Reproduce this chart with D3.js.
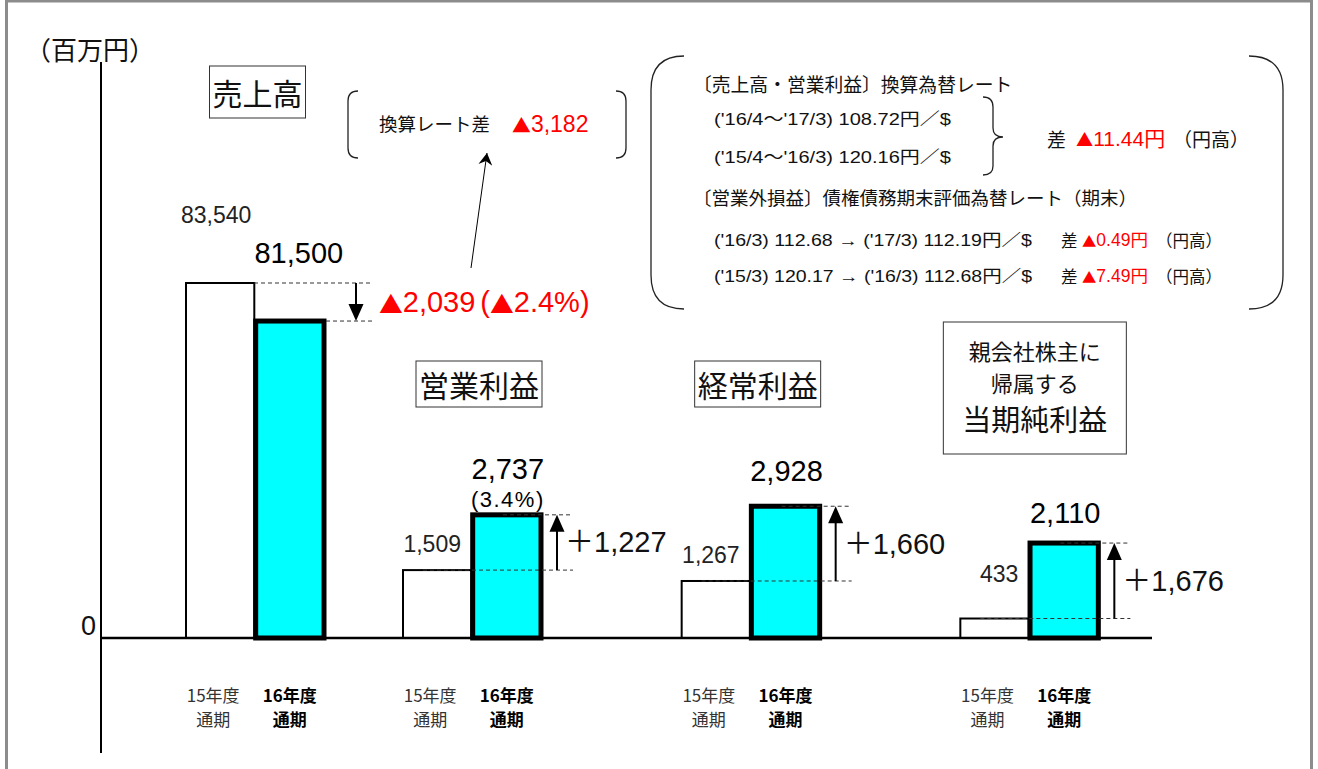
<!DOCTYPE html>
<html><head><meta charset="utf-8">
<script src="https://cdn.jsdelivr.net/npm/d3@7"></script>
<style>
html,body{margin:0;padding:0;background:#fff;}
svg{display:block;}
</style></head><body>
<svg id="chart" width="1318" height="769"></svg>
<script>
// ---------------- data ----------------
const categories = ["売上高", "営業利益", "経常利益", "親会社株主に帰属する当期純利益"];
const categoryLines = [["売上高"], ["営業利益"], ["経常利益"], ["親会社株主に", "帰属する", "当期純利益"]];
const periods = ["15年度", "16年度"];
const periodSub = ["通期", "通期"];
const values15 = [83540, 1509, 1267, 433];
const values16 = [81500, 2737, 2928, 2110];
const diffLabels = ["▲2,039", "＋1,227", "＋1,660", "＋1,676"];
const diffPct = ["(▲2.4%)", "", "", ""];
const marginLabels = ["", "(3.4%)", "", ""];
const unitLabel = "（百万円）";
const zeroLabel = "0";
const fxGapLabel = "換算レート差";
const fxGapValue = "▲3,182";
const rateTitle1 = "〔売上高・営業利益〕換算為替レート";
const rateLines1 = ["('16/4〜'17/3)  108.72円／$", "('15/4〜'16/3)  120.16円／$"];
const rateDiff1 = ["差", "▲11.44円", "（円高）"];
const rateTitle2 = "〔営業外損益〕債権債務期末評価為替レート（期末）";
const rateLines2 = ["('16/3) 112.68 → ('17/3) 112.19円／$", "('15/3) 120.17 → ('16/3) 112.68円／$"];
const rateDiff2 = [["差", "▲0.49円", "（円高）"], ["差", "▲7.49円", "（円高）"]];

// ---------------- setup ----------------
const LATIN = "'Liberation Sans', Arial, 'Noto Sans CJK JP', sans-serif";
const CJK = "'Noto Sans CJK JP', 'Liberation Sans', sans-serif";
const RED = "#ff0000";
const INK = "#111";
const svg = d3.select("#chart");
const baseY = 638;

// put text into a <text>, drawing the ▲ glyphs with the CJK font (larger triangle)
function mixed(sel, str, size) {
  str.split(/(▲|\()/).filter(s => s.length).forEach(s => {
    const ts = sel.append("tspan").text(s);
    if (s === "▲") ts.attr("font-family", CJK).attr("font-size", size * 0.82);
    if (s === "(") ts.attr("dx", 5);
  });
  return sel;
}

// sales has its own (broken) scale; profits share one
const ySales = d3.scaleLinear().domain([64500, 83540]).range([baseY, 283]);
const yProfit = d3.scaleLinear().domain([0, 3000]).range([baseY, 503]);
const salesX = d3.scaleBand().domain(categories.slice(0, 1)).range([186, 464.7]);
const profitX = d3.scaleBand().domain(categories.slice(1)).range([403, 1239]);
const inner = d3.scaleBand().domain(periods).range([0, 138]).paddingInner(0.02);

const rows = categories.map((c, i) => ({cat: c, i, v: [values15[i], values16[i]]}));
const yOf = r => r.i === 0 ? ySales : yProfit;
const L = r => r.i === 0 ? salesX(r.cat) : profitX(r.cat);

// frame
svg.append("rect").attr("x", 6.5).attr("y", 1).attr("width", 1305).attr("height", 820)
  .attr("fill", "none").attr("stroke", "#8c8c8c").attr("stroke-width", 3);

// axis
svg.append("line").attr("x1", 101).attr("x2", 101).attr("y1", 62).attr("y2", 753)
  .attr("stroke", "#000").attr("stroke-width", 2);
const yAxis = d3.axisLeft(yProfit).tickValues([0]).tickSize(0).tickFormat(() => zeroLabel);
const ax = svg.append("g").attr("transform", "translate(100,0)").call(yAxis);
ax.select(".domain").remove();
ax.selectAll("text").attr("font-family", LATIN).attr("font-size", 27).attr("fill", INK)
  .attr("x", -4).attr("dy", "-0.12em").attr("dominant-baseline", "auto");

svg.append("text").attr("x", 90).attr("y", 48).attr("text-anchor", "middle")
  .attr("dominant-baseline", "central").attr("font-family", CJK).attr("font-size", 26)
  .attr("fill", INK).text(unitLabel);

// bars
const bars = [];
rows.forEach(r => periods.forEach((p, k) => bars.push({r, p, k, v: r.v[k]})));
svg.selectAll("rect.bar").data(bars).join("rect").attr("class", "bar")
  .attr("x", d => L(d.r) + inner(d.p))
  .attr("y", d => yOf(d.r)(d.v))
  .attr("width", inner.bandwidth())
  .attr("height", d => baseY - yOf(d.r)(d.v))
  .attr("fill", d => d.k ? "#00ffff" : "#ffffff")
  .attr("stroke", "#000")
  .attr("stroke-width", d => d.k ? 5 : 2);

// baseline
svg.append("line").attr("x1", 100).attr("x2", 1152).attr("y1", baseY).attr("y2", baseY)
  .attr("stroke", "#000").attr("stroke-width", 2.5);

// guides, arrows, diff labels
function dash(x1, x2, y) {
  svg.append("line").attr("x1", x1).attr("x2", x2).attr("y1", y).attr("y2", y)
    .attr("stroke", "#333").attr("stroke-width", 1).attr("stroke-dasharray", "4,3");
}
function vArrow(x, yFrom, yTo) {
  const dir = yTo < yFrom ? 1 : -1; // 1 = pointing up
  const headLen = 17, half = 7.5;
  svg.append("line").attr("x1", x).attr("x2", x).attr("y1", yFrom).attr("y2", yTo + dir * headLen * 0.8)
    .attr("stroke", "#000").attr("stroke-width", 2);
  svg.append("path").attr("d", `M${x},${yTo} L${x - half},${yTo + dir * headLen} L${x + half},${yTo + dir * headLen} Z`)
    .attr("fill", "#000");
}
rows.forEach(r => {
  const y = yOf(r), x0 = L(r);
  const y15 = y(r.v[0]), y16 = y(r.v[1]);
  const isSales = r.i === 0;
  if (isSales) {
    dash(x0 + 68, x0 + 187, y15);
    dash(x0 + 140, x0 + 187, y16);
    vArrow(x0 + 170, y15, y16);
  } else {
    dash(x0 + 100, x0 + 170, y16);
    dash(x0 + 20, x0 + 170, y15);
    vArrow(x0 + 154, y15, y16);
  }
  const t = svg.append("text").attr("x", x0 + (isSales ? 193 : 162)).attr("y", (y15 + y16) / 2)
    .attr("dominant-baseline", "central").attr("font-family", LATIN).attr("font-size", 29)
    .attr("fill", isSales ? RED : INK);
  mixed(t, diffLabels[r.i] + diffPct[r.i], 29);
});

// value labels
const lift15 = [60, 18, 18, 37];
const lift16 = [58, 36, 25, 20];
rows.forEach(r => {
  const y = yOf(r), x0 = L(r);
  const isSales = r.i === 0;
  const fmt = d3.format(",");
  svg.append("text")
    .attr("x", isSales ? x0 + inner("15年度") + inner.bandwidth() / 2 - 4 : x0 + 58)
    .attr("y", y(r.v[0]) - lift15[r.i])
    .attr("text-anchor", isSales ? "middle" : "end")
    .attr("font-family", LATIN).attr("font-size", 23).attr("fill", "#222")
    .text(fmt(r.v[0]));
  const cx16 = x0 + inner("16年度") + inner.bandwidth() / 2 + (isSales ? 9 : 1);
  svg.append("text").attr("x", cx16).attr("y", y(r.v[1]) - lift16[r.i])
    .attr("text-anchor", "middle").attr("font-family", LATIN).attr("font-size", 29).attr("fill", "#000")
    .text(fmt(r.v[1]));
  if (marginLabels[r.i]) {
    svg.append("text").attr("x", cx16).attr("y", y(r.v[1]) - lift16[r.i] + 28)
      .attr("text-anchor", "middle").attr("font-family", LATIN).attr("font-size", 22)
      .attr("letter-spacing", 1.5).attr("fill", "#000")
      .text(marginLabels[r.i]);
  }
});

// period labels
rows.forEach(r => {
  const x0 = L(r);
  periods.forEach((p, k) => {
    const cx = x0 + inner(p) + inner.bandwidth() / 2 + (k ? 0 : -7);
    const t = svg.append("text").attr("text-anchor", "middle").attr("font-family", CJK)
      .attr("font-size", 17).attr("font-weight", k ? 700 : 400).attr("fill", k ? "#000" : "#333");
    t.append("tspan").attr("x", cx).attr("y", 694).attr("dominant-baseline", "central").text(p);
    t.append("tspan").attr("x", cx).attr("y", 718).attr("dominant-baseline", "central").text(periodSub[k]);
  });
});

// category titles
const titleCY = [92, 384, 384, null];
const titleH = [52, 46, 46, null];
rows.forEach(r => {
  const cx = L(r) + (r.i === 0 ? 71.5 : 76);
  if (r.i < 3) {
    const t = svg.append("text").attr("x", cx).attr("y", titleCY[r.i]).attr("text-anchor", "middle")
      .attr("dominant-baseline", "central").attr("font-family", CJK).attr("font-size", 30).attr("fill", INK)
      .text(categoryLines[r.i][0]);
    const bb = t.node().getBBox();
    svg.append("rect").attr("x", bb.x - 3).attr("y", titleCY[r.i] - titleH[r.i] / 2)
      .attr("width", bb.width + 6).attr("height", titleH[r.i])
      .attr("fill", "none").attr("stroke", "#333").attr("stroke-width", 1);
  } else {
    const cxn = L(r) + 74.5;
    svg.append("rect").attr("x", cxn - 91.5).attr("y", 322).attr("width", 183).attr("height", 132)
      .attr("fill", "#fff").attr("stroke", "#333").attr("stroke-width", 1);
    const ys = [350, 382, 418], fs = [22, 22, 29];
    categoryLines[3].forEach((ln, j) => {
      svg.append("text").attr("x", cxn).attr("y", ys[j]).attr("text-anchor", "middle")
        .attr("dominant-baseline", "central").attr("font-family", CJK).attr("font-size", fs[j])
        .attr("fill", INK).text(ln);
    });
  }
});

// fx gap bracket annotation
const bw = 1.3;
svg.append("path").attr("d", "M358,91 Q348,91 348,101 L348,148 Q348,158 358,158")
  .attr("fill", "none").attr("stroke", "#222").attr("stroke-width", bw);
svg.append("path").attr("d", "M616,91 Q626,91 626,101 L626,148 Q626,158 616,158")
  .attr("fill", "none").attr("stroke", "#222").attr("stroke-width", bw);
svg.append("text").attr("x", 379).attr("y", 123).attr("dominant-baseline", "central")
  .attr("font-family", CJK).attr("font-size", 18.5).attr("fill", INK).text(fxGapLabel);
mixed(svg.append("text").attr("x", 512).attr("y", 124).attr("dominant-baseline", "central")
  .attr("font-family", LATIN).attr("font-size", 23).attr("fill", RED), fxGapValue, 23);

svg.append("defs").append("marker").attr("id", "ah").attr("viewBox", "0 0 12 14")
  .attr("refX", 12).attr("refY", 7).attr("markerWidth", 12).attr("markerHeight", 14)
  .attr("markerUnits", "userSpaceOnUse").attr("orient", "auto")
  .append("path").attr("d", "M0,0 L12,7 L0,14 L4,7 Z").attr("fill", "#000");
svg.append("line").attr("x1", 471).attr("y1", 268).attr("x2", 487).attr("y2", 153)
  .attr("stroke", "#000").attr("stroke-width", 1).attr("marker-end", "url(#ah)");

// rate box
svg.append("path").attr("d", "M684,56 Q651,56 651,90 L651,275 Q651,309 684,309")
  .attr("fill", "none").attr("stroke", "#222").attr("stroke-width", bw);
svg.append("path").attr("d", "M1249,56 Q1283,56 1283,90 L1283,275 Q1283,309 1249,309")
  .attr("fill", "none").attr("stroke", "#222").attr("stroke-width", bw);
svg.append("text").attr("x", 693).attr("y", 83).attr("dominant-baseline", "central")
  .attr("font-family", CJK).attr("font-size", 18.8).attr("fill", INK).text(rateTitle1);
[119.5, 157.5].forEach((yy, j) => {
  svg.append("text").attr("x", 714).attr("y", yy).attr("dominant-baseline", "central")
    .attr("font-family", LATIN).attr("font-size", 17).attr("fill", INK)
    .attr("textLength", 237).attr("lengthAdjust", "spacingAndGlyphs").text(rateLines1[j]);
});
svg.append("path").attr("d", "M983,97 Q993,97 993,107 L993,128 Q993,137 1003,137 Q993,137 993,146 L993,166 Q993,175 983,175")
  .attr("fill", "none").attr("stroke", "#222").attr("stroke-width", bw);
svg.append("text").attr("x", 1047).attr("y", 138).attr("dominant-baseline", "central")
  .attr("font-family", CJK).attr("font-size", 19).attr("fill", INK).text(rateDiff1[0]);
mixed(svg.append("text").attr("x", 1076).attr("y", 138).attr("dominant-baseline", "central")
  .attr("font-family", LATIN).attr("font-size", 21).attr("fill", RED), rateDiff1[1], 21);
svg.append("text").attr("x", 1173).attr("y", 138).attr("dominant-baseline", "central")
  .attr("font-family", CJK).attr("font-size", 19).attr("fill", INK).text(rateDiff1[2]);

svg.append("text").attr("x", 693).attr("y", 197).attr("dominant-baseline", "central")
  .attr("font-family", CJK).attr("font-size", 18.5).attr("fill", INK).text(rateTitle2);
[239.5, 276].forEach((yy, j) => {
  svg.append("text").attr("x", 714).attr("y", yy).attr("dominant-baseline", "central")
    .attr("font-family", LATIN).attr("font-size", 16.5).attr("fill", INK)
    .attr("textLength", 318).attr("lengthAdjust", "spacingAndGlyphs").text(rateLines2[j]);
  svg.append("text").attr("x", 1061).attr("y", yy).attr("dominant-baseline", "central")
    .attr("font-family", CJK).attr("font-size", 16.5).attr("fill", INK).text(rateDiff2[j][0]);
  mixed(svg.append("text").attr("x", 1082).attr("y", yy).attr("dominant-baseline", "central")
    .attr("font-family", LATIN).attr("font-size", 17.5).attr("fill", RED), rateDiff2[j][1], 17.5);
  svg.append("text").attr("x", 1156).attr("y", yy).attr("dominant-baseline", "central")
    .attr("font-family", CJK).attr("font-size", 16.5).attr("fill", INK).text(rateDiff2[j][2]);
});
</script>
</body></html>
